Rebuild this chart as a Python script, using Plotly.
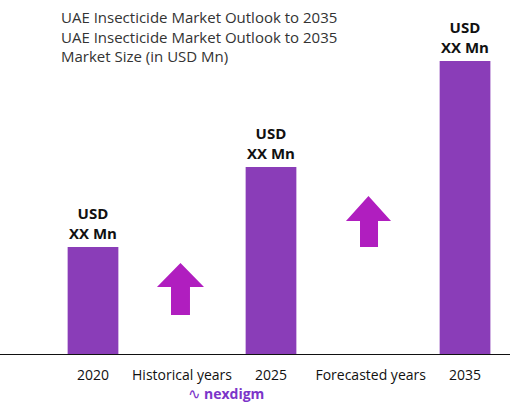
import plotly.graph_objects as go

years = ["2020", "2025", "2035"]
values = [10.8, 18.8, 29.4]
bar_x = [0, 1, 2.09]
value_labels = ["USD<br>XX Mn", "USD<br>XX Mn", "USD<br>XX Mn"]
tick_pos = [0, 0.5, 1, 1.56, 2.09]
tick_text = ["2020", "Historical years", "2025", "Forecasted years", "2035"]

W, H = 532, 416
L, R, T, B = 0, 22, 20, 61
pw, ph = W - L - R, H - T - B

def px(x, y):
    return (x - L) / pw, (H - B - y) / ph

fig = go.Figure(go.Bar(x=bar_x, y=values, width=0.285, marker_color="#8A3DB8",
                       marker_line_width=0, hoverinfo="skip"))

ann = []
for x, v, t in zip(bar_x, values, value_labels):
    ann.append(dict(x=x, y=v, xref="x", yref="y", text="<b>" + t + "</b>", showarrow=False,
                    yanchor="bottom", yshift=2, font=dict(size=15, color="#111", family="Open Sans"),
                    align="center"))
ann.append(dict(x=px(59, 0)[0], y=px(0, 5)[1], xref="paper", yref="paper", xanchor="left", yanchor="top",
                align="left", showarrow=False,
                text="UAE Insecticide Market Outlook to 2035<br>UAE Insecticide Market Outlook to 2035<br>Market Size (in USD Mn)",
                font=dict(size=15, color="#333", family="Open Sans")))
ann.append(dict(x=px(234, 0)[0], y=px(0, 405)[1], xref="paper", yref="paper", showarrow=False,
                text="<b>nexdigm</b>", font=dict(size=14, color="#7B35C9", family="Open Sans")))
ann.append(dict(x=px(194, 0)[0], y=px(0, 405)[1], xref="paper", yref="paper", showarrow=False,
                text="∿", font=dict(size=15, color="#7B35C9")))

def arrow(xl, xr, tip, hb, sl, sr, bot):
    pts = [(xl, hb), ((xl + xr) / 2, tip), (xr, hb), (sr, hb), (sr, bot), (sl, bot), (sl, hb)]
    p = [px(a, b) for a, b in pts]
    return dict(type="path", xref="paper", yref="paper", fillcolor="#B01EBF", line_width=0,
                path="M " + " L ".join(f"{a:.4f},{b:.4f}" for a, b in p) + " Z")

shapes = [arrow(157, 204, 263, 287, 171, 190, 315), arrow(346, 391, 196, 221, 360, 378, 247)]

fig.update_layout(
    width=W, height=H, margin=dict(l=L, r=R, t=T, b=B),
    plot_bgcolor="white", paper_bgcolor="white", showlegend=False,
    annotations=ann, shapes=shapes,
    xaxis=dict(range=[-93 / 178, 417 / 178], tickvals=tick_pos, ticktext=tick_text, showgrid=False,
               zeroline=False, showline=False, ticks="outside", ticklen=7, tickcolor="rgba(0,0,0,0)",
               tickfont=dict(size=14, color="#111", family="Open Sans")),
    yaxis=dict(range=[0, ph / 10], visible=False),
)
fig.add_shape(type="line", xref="paper", yref="y", x0=0, x1=1, y0=0, y1=0, line=dict(color="#111", width=2))
fig.write_html("out.html", config={"displayModeBar": False})
with open("out.html") as f:
    html = f.read()
html = html.replace("<body>", '<body style="margin:0">', 1)
with open("out.html", "w") as f:
    f.write(html)
